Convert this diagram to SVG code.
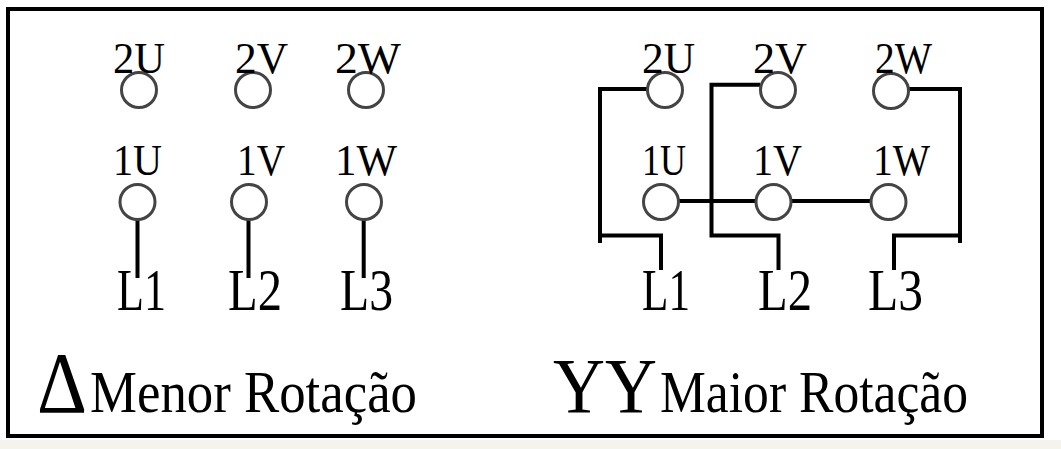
<svg xmlns="http://www.w3.org/2000/svg" width="1061" height="449" viewBox="0 0 1061 449">
<style>
.bg{fill:#ffffff}
.strip{fill:#f4f4ec}
.frame{fill:none;stroke:#000;stroke-width:4}
.term{fill:none;stroke:#444444;stroke-width:3}
.wire{fill:none;stroke:#000;stroke-width:4;stroke-linecap:butt;stroke-linejoin:miter}
.lbl{font-family:"Liberation Serif",serif;font-size:45px;fill:#000}
.ln{font-family:"Liberation Serif",serif;font-size:60px;fill:#000}
.cap{font-family:"Liberation Serif",serif;font-size:60px;fill:#000}
.sym{font-family:"Liberation Serif",serif;fill:#000}
</style>
<rect class="bg" x="0" y="0" width="1061" height="449"/>
<rect class="strip" x="0" y="440" width="1061" height="9"/>
<rect class="frame" x="8" y="9" width="1034" height="427"/>

<g id="connectors">
  <line class="wire" x1="137.5" y1="220" x2="137.5" y2="278"/>
  <line class="wire" x1="248.5" y1="220" x2="248.5" y2="278"/>
  <line class="wire" x1="363.7" y1="220" x2="363.7" y2="278"/>
  <polyline class="wire" points="647,89 600,89 600,235.5 661,235.5 661,270"/>
  <line class="wire" x1="600" y1="235" x2="600" y2="243"/>
  <polyline class="wire" points="760,84.7 711.5,84.7 711.5,235.5 778.5,235.5 778.5,270"/>
  <polyline class="wire" points="909,89 960,89 960,235.5 894,235.5 894,270"/>
  <line class="wire" x1="960" y1="235" x2="960" y2="243"/>
  <line class="wire" x1="679" y1="201" x2="755" y2="201"/>
  <line class="wire" x1="792" y1="201" x2="870" y2="201"/>
</g>

<g id="left-2U"><circle class="term" cx="139" cy="90" r="17.5"/><text class="lbl" x="113" y="73" textLength="52" lengthAdjust="spacingAndGlyphs">2U</text></g>
<g id="left-2V"><circle class="term" cx="253" cy="90" r="17.5"/><text class="lbl" x="235" y="73" textLength="53" lengthAdjust="spacingAndGlyphs">2V</text></g>
<g id="left-2W"><circle class="term" cx="366" cy="90" r="17.5"/><text class="lbl" x="335" y="73" textLength="66" lengthAdjust="spacingAndGlyphs">2W</text></g>
<g id="left-1U"><circle class="term" cx="137.5" cy="202" r="17.5"/><text class="lbl" x="113" y="175" textLength="49" lengthAdjust="spacingAndGlyphs">1U</text></g>
<g id="left-1V"><circle class="term" cx="249" cy="202" r="17.5"/><text class="lbl" x="237" y="175" textLength="48" lengthAdjust="spacingAndGlyphs">1V</text></g>
<g id="left-1W"><circle class="term" cx="364" cy="202" r="17.5"/><text class="lbl" x="335" y="175" textLength="62" lengthAdjust="spacingAndGlyphs">1W</text></g>
<g id="left-L1"><text class="ln" x="117" y="310" textLength="49" lengthAdjust="spacingAndGlyphs">L1</text></g>
<g id="left-L2"><text class="ln" x="228" y="310" textLength="54" lengthAdjust="spacingAndGlyphs">L2</text></g>
<g id="left-L3"><text class="ln" x="340" y="310" textLength="53" lengthAdjust="spacingAndGlyphs">L3</text></g>

<g id="right-2U"><circle class="term" cx="665" cy="90" r="17.5"/><text class="lbl" x="642" y="73" textLength="53" lengthAdjust="spacingAndGlyphs">2U</text></g>
<g id="right-2V"><circle class="term" cx="778" cy="90" r="17.5"/><text class="lbl" x="753" y="73" textLength="54" lengthAdjust="spacingAndGlyphs">2V</text></g>
<g id="right-2W"><circle class="term" cx="891" cy="91" r="17.5"/><text class="lbl" x="875" y="73" textLength="57" lengthAdjust="spacingAndGlyphs">2W</text></g>
<g id="right-1U"><circle class="term" cx="661" cy="202" r="17.5"/><text class="lbl" x="642" y="175" textLength="44" lengthAdjust="spacingAndGlyphs">1U</text></g>
<g id="right-1V"><circle class="term" cx="773.5" cy="202" r="17.5"/><text class="lbl" x="753" y="175" textLength="49" lengthAdjust="spacingAndGlyphs">1V</text></g>
<g id="right-1W"><circle class="term" cx="888.5" cy="202" r="17.5"/><text class="lbl" x="873" y="175" textLength="57" lengthAdjust="spacingAndGlyphs">1W</text></g>
<g id="right-L1"><text class="ln" x="642" y="310" textLength="48" lengthAdjust="spacingAndGlyphs">L1</text></g>
<g id="right-L2"><text class="ln" x="758" y="310" textLength="54" lengthAdjust="spacingAndGlyphs">L2</text></g>
<g id="right-L3"><text class="ln" x="868" y="310" textLength="55" lengthAdjust="spacingAndGlyphs">L3</text></g>

<g id="caption-delta">
  <text class="sym" x="37" y="412" font-size="86" textLength="50" lengthAdjust="spacingAndGlyphs">Δ</text>
  <text class="cap" x="90" y="412" textLength="327" lengthAdjust="spacingAndGlyphs">Menor Rotação</text>
</g>
<g id="caption-yy">
  <text class="sym" x="553" y="412" font-size="78" textLength="104" lengthAdjust="spacingAndGlyphs">YY</text>
  <text class="cap" x="660" y="412" textLength="308" lengthAdjust="spacingAndGlyphs">Maior Rotação</text>
</g>
</svg>
